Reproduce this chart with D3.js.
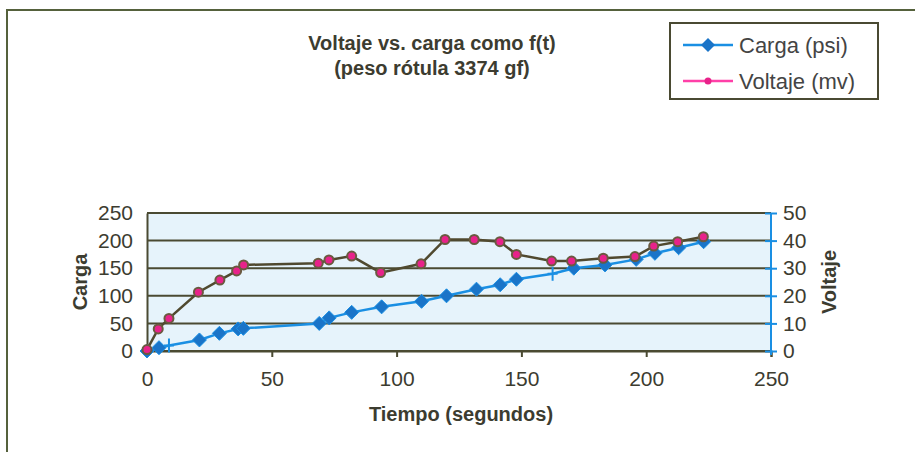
<!DOCTYPE html>
<html><head><meta charset="utf-8">
<script src="https://cdn.jsdelivr.net/npm/d3@7"></script>
<style>body{margin:0;background:#fff}svg{display:block}text{font-family:"Liberation Sans",Arial,sans-serif}</style>
</head><body><svg id="c" width="915" height="452"></svg>
<script>
// ---- data ----
const cargaT = [0, 4.8, 8.8, 21, 29, 36.5, 38.6, 69, 73, 82, 94, 110, 120, 132, 141.5, 148, 162.5, 171, 183.5, 196, 203.5, 213, 223];
const cargaV = [0, 6, 10, 20, 32, 40, 41, 50, 60, 70, 80, 90, 100, 112, 120, 130, 140, 150, 156, 166, 177, 187, 198];
const cargaMarker = ["d","d","+","d","d","d","d","d","d","d","d","d","d","d","d","d","+","d","d","d","d","d","d"];
const voltT = [0, 4.5, 8.8, 20.6, 29.2, 35.9, 38.7, 68.6, 72.9, 82, 93.6, 109.8, 119.4, 131.1, 141.4, 148, 162.1, 170.1, 182.8, 195.5, 203, 212.6, 222.9];
const voltV = [0.5, 8, 11.8, 21.3, 25.7, 29, 31.2, 31.8, 33, 34.4, 28.4, 31.6, 40.4, 40.4, 39.6, 35, 32.6, 32.6, 33.6, 34.2, 38, 39.6, 41.4];
const xTicks = [0, 50, 100, 150, 200, 250];
const yLeftTicks = [0, 50, 100, 150, 200, 250];
const yRightTicks = [0, 10, 20, 30, 40, 50];
const titleLines = ["Voltaje vs. carga como f(t)", "(peso rótula 3374 gf)"];
const legendLabels = ["Carga (psi)", "Voltaje (mv)"];

const svg = d3.select("#c");
const olive = "#4a4a32", txt = "#3c3c30", blue = "#1a8fe3", blueDark = "#1a74c8", pink = "#e8228a";
const L = 147, R = 771, T = 213, B = 351;
const x = d3.scaleLinear().domain([0, 250]).range([L, R]);
const yl = d3.scaleLinear().domain([0, 250]).range([B, T]);
const yr = d3.scaleLinear().domain([0, 50]).range([B, T]);

// frame
svg.append("path").attr("d", "M7,452 L7,10 L915,10").attr("fill", "none").attr("stroke", "#55613c").attr("stroke-width", 2);

// plot area
svg.append("rect").attr("x", L).attr("y", T).attr("width", R - L).attr("height", B - T).attr("fill", "#e6f3fb");
// gridlines
svg.append("g").selectAll("line").data(yLeftTicks).join("line")
  .attr("x1", L).attr("x2", R).attr("y1", d => yl(d)).attr("y2", d => yl(d))
  .attr("stroke", olive).attr("stroke-width", 2);

// left axis
const gL = svg.append("g").attr("transform", `translate(${L},0)`)
  .call(d3.axisLeft(yl).tickValues(yLeftTicks).tickSize(0).tickPadding(14));
gL.select(".domain").attr("stroke", olive).attr("stroke-width", 2);
gL.selectAll("text").attr("font-size", 21).attr("fill", txt);

// bottom axis
const gB = svg.append("g").attr("transform", `translate(0,${B})`)
  .call(d3.axisBottom(x).tickValues(xTicks).tickSize(6).tickPadding(14));
gB.select(".domain").attr("stroke", olive).attr("stroke-width", 2);
gB.selectAll(".tick line").attr("stroke", olive).attr("stroke-width", 2);
gB.selectAll("text").attr("font-size", 21).attr("fill", txt);

// right axis
const gR = svg.append("g").attr("transform", `translate(${R},0)`)
  .call(d3.axisRight(yr).tickValues(yRightTicks).tickSize(6).tickPadding(6));
gR.select(".domain").attr("stroke", blue).attr("stroke-width", 2).attr("d", `M0,${T} V${B + 4}`);
gR.selectAll(".tick line").attr("stroke", blue).attr("stroke-width", 2).attr("x1", -6);
gR.selectAll("text").attr("font-size", 21).attr("fill", txt);

// axis titles
svg.append("text").attr("transform", `translate(87,${(T + B) / 2}) rotate(-90)`)
  .attr("text-anchor", "middle").attr("font-weight", "bold").attr("font-size", 20).attr("fill", txt).text("Carga");
svg.append("text").attr("transform", `translate(836,${(T + B) / 2}) rotate(-90)`)
  .attr("text-anchor", "middle").attr("font-weight", "bold").attr("font-size", 20).attr("fill", txt).text("Voltaje");
svg.append("text").attr("x", 461).attr("y", 421).attr("text-anchor", "middle")
  .attr("font-weight", "bold").attr("font-size", 20).attr("fill", txt).text("Tiempo (segundos)");

// title
svg.append("g").selectAll("text").data(titleLines).join("text")
  .attr("x", 432).attr("y", (d, i) => 50 + i * 25).attr("text-anchor", "middle")
  .attr("font-weight", "bold").attr("font-size", 20).attr("fill", txt).text(d => d);

// series
const carga = cargaT.map((t, i) => ({t, v: cargaV[i], m: cargaMarker[i]}));
const volt = voltT.map((t, i) => ({t, v: voltV[i]}));
const diamond = (cx, cy, s) => `M${cx},${cy - s} L${cx + s},${cy} L${cx},${cy + s} L${cx - s},${cy} Z`;

svg.append("path").datum(carga).attr("fill", "none").attr("stroke", blue).attr("stroke-width", 2.5)
  .attr("d", d3.line().x(d => x(d.t)).y(d => yl(d.v)));
svg.append("g").selectAll("path").data(carga.filter(d => d.m === "d")).join("path")
  .attr("d", d => diamond(x(d.t), yl(d.v), 7)).attr("fill", blueDark).attr("stroke", blue).attr("stroke-width", 1);
svg.append("g").selectAll("path").data(carga.filter(d => d.m === "+")).join("path")
  .attr("d", d => `M${x(d.t) - 5},${yl(d.v)} h10 M${x(d.t)},${yl(d.v) - 7} v14`)
  .attr("stroke", blue).attr("stroke-width", 2);

svg.append("path").datum(volt).attr("fill", "none").attr("stroke", "#50492f").attr("stroke-width", 2.5)
  .attr("d", d3.line().x(d => x(d.t)).y(d => yr(d.v)));
svg.append("g").selectAll("circle").data(volt).join("circle")
  .attr("cx", d => x(d.t)).attr("cy", d => yr(d.v)).attr("r", 4.5)
  .attr("fill", pink).attr("stroke", "#6a5a40").attr("stroke-width", 2);

// legend
const lg = svg.append("g");
lg.append("rect").attr("x", 670).attr("y", 23).attr("width", 208).attr("height", 76)
  .attr("fill", "#fff").attr("stroke", olive).attr("stroke-width", 2);
const ly = [45, 81];
lg.append("line").attr("x1", 683).attr("x2", 733).attr("y1", ly[0]).attr("y2", ly[0]).attr("stroke", blue).attr("stroke-width", 2.5);
lg.append("path").attr("d", diamond(708, ly[0], 7)).attr("fill", blueDark);
lg.append("line").attr("x1", 683).attr("x2", 733).attr("y1", ly[1]).attr("y2", ly[1]).attr("stroke", "#ff40a8").attr("stroke-width", 2.5);
lg.append("circle").attr("cx", 708).attr("cy", ly[1]).attr("r", 3.5).attr("fill", pink);
lg.selectAll("text.l").data(legendLabels).join("text").attr("class", "l")
  .attr("x", 739).attr("y", (d, i) => ly[i] + 8).attr("font-size", 22).attr("fill", "#444").text(d => d);
</script></body></html>
